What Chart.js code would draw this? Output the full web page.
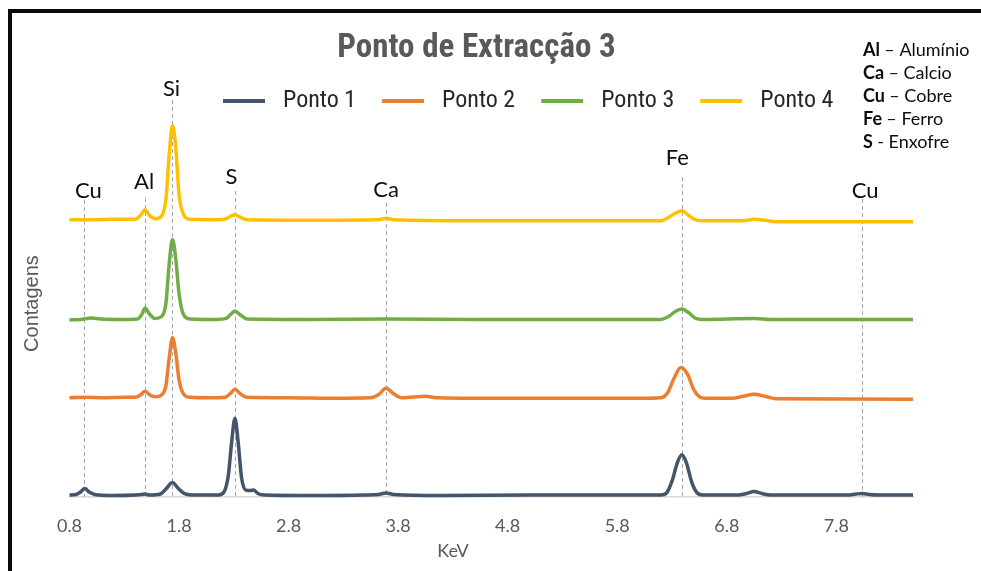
<!DOCTYPE html>
<html><head><meta charset="utf-8">
<script src="https://cdn.jsdelivr.net/npm/chart.js@4/dist/chart.umd.min.js"></script>
<style>html,body{margin:0;padding:0;background:#fff;}canvas{display:block;}</style>
</head><body>
<canvas id="c" width="981" height="571"></canvas>
<script>
// ---------- data ----------
const chartTitle = 'Ponto de Extracção 3';
const xAxisTitle = 'KeV';
const yAxisTitle = 'Contagens';
const seriesNames = ['Ponto 1', 'Ponto 2', 'Ponto 3', 'Ponto 4'];
const xTickValues = [0.8, 1.8, 2.8, 3.8, 4.8, 5.8, 6.8, 7.8];
const xTickLabels = ['0.8', '1.8', '2.8', '3.8', '4.8', '5.8', '6.8', '7.8'];
const elementSymbols = ['Cu', 'Al', 'Si', 'S', 'Ca', 'Fe', 'Cu'];
const elementKev = [0.935, 1.49, 1.74, 2.315, 3.69, 6.395, 8.035];
const keySymbols = ['Al', 'Ca', 'Cu', 'Fe', 'S'];
const keyNames = ['– Alumínio', '– Calcio', '– Cobre', '– Ferro', '- Enxofre'];

// [keV, counts]
const ponto1 = [[0.80,2],[0.86,2.5],[0.90,5],[0.94,8.5],[0.98,5],[1.03,2.5],[1.20,1.5],[1.40,2],[1.46,2.5],[1.49,3],[1.53,2],[1.63,3],[1.68,8],[1.74,14.5],[1.79,9],[1.85,3.5],[1.95,2],
  [2.16,2],[2.21,5],[2.25,22],[2.28,55],[2.31,79.5],[2.34,55],[2.37,20],[2.41,7],[2.45,6.5],[2.48,7],[2.52,3.5],[2.58,2],[3.00,1.5],[3.50,2],[3.62,2.5],[3.69,4],[3.76,2.5],[4.20,1.5],[5.00,2],[5.80,2],
  [6.20,2],[6.25,4],[6.30,16],[6.35,35],[6.39,42.5],[6.43,35],[6.48,15],[6.53,4],[6.58,2],[6.90,2],[6.98,3.5],[7.05,5.5],[7.12,3.5],[7.20,2],[7.90,2],[7.98,3],[8.04,3.5],[8.10,2.5],[8.20,2],[8.50,2]];
const ponto2 = [[0.80,100],[0.95,100.5],[1.10,100],[1.30,100.5],[1.40,100.5],[1.45,103],[1.49,106.5],[1.54,102.5],[1.59,101],[1.64,103],[1.68,112],[1.71,140],[1.74,160.5],[1.77,145],[1.80,118],[1.84,104],[1.90,100.5],
  [2.10,100],[2.22,100.5],[2.27,104.5],[2.31,108.5],[2.36,104],[2.42,100.5],[2.80,100],[3.20,99.5],[3.55,100],[3.62,103],[3.69,109.5],[3.76,104],[3.84,100],[4.05,101.5],[4.15,100],[4.60,99.5],[5.20,99.5],[6.00,99.5],
  [6.20,100],[6.26,105],[6.32,120],[6.38,130.5],[6.44,124],[6.50,108],[6.56,100.5],[6.62,99.5],[6.85,99.5],[6.95,101.5],[7.05,103.5],[7.15,101.5],[7.25,99],[8.50,98.5]];
const ponto3 = [[0.80,178.5],[0.90,179],[1.00,180.5],[1.08,179.5],[1.30,179],[1.42,179.5],[1.46,184],[1.49,190.5],[1.53,184.5],[1.58,180],[1.64,182],[1.68,195],[1.71,235],[1.74,259.5],[1.77,240],[1.80,205],[1.84,184],[1.90,179.5],
  [2.15,179],[2.23,180],[2.27,184],[2.31,187.5],[2.36,183.5],[2.42,179.5],[3.00,179],[3.69,179.5],[4.50,179],[5.50,179],[6.20,179],[6.27,182],[6.33,187],[6.39,189.5],[6.45,186],[6.51,180.5],[6.58,179],[7.05,180],[7.20,179],[8.50,179]];
const ponto4 = [[0.80,279.5],[1.00,279.5],[1.20,280],[1.40,280],[1.45,284],[1.49,289.5],[1.53,284],[1.58,280.5],[1.64,283],[1.68,300],[1.71,345],[1.74,374.5],[1.77,352],[1.80,305],[1.84,285],[1.90,280],
  [2.15,279.5],[2.23,280.5],[2.27,283],[2.31,284.5],[2.36,282],[2.42,279.5],[3.00,279],[3.62,279.5],[3.69,281],[3.76,279.5],[4.50,278.5],[5.50,278.5],[6.20,278.5],[6.27,282],[6.33,286],[6.39,288.5],[6.45,284],[6.51,279.5],[6.58,278.5],
  [6.95,278.5],[7.05,280],[7.15,279],[7.25,277.5],[8.50,277.5]];

// ---------- styles ----------
const colors = ['#44546a', '#ed7d31', '#70ad47', '#ffc000'];
const narrowFamily = "'Liberation Sans Narrow','Arial Narrow','Roboto Condensed','Liberation Sans',sans-serif";
const LEGEND_FS = 24, LEGEND_BOX = 48, LEGEND_LINE = 42;

const allSeries = [ponto1, ponto2, ponto3, ponto4];
const datasets = allSeries.map((s, i) => ({
  label: seriesNames[i],
  data: s.map(p => ({ x: p[0], y: p[1] })),
  borderColor: colors[i],
  backgroundColor: colors[i],
  borderWidth: 3.5,
  pointRadius: 0,
  pointHoverRadius: 0,
  cubicInterpolationMode: 'monotone',
  fill: false,
  clip: false
}));

const annot = {
  labelBase: [198, 189, 96, 184, 197, 165, 198],
  labelDx: [4, -1, -1, -4, 0, -5, 3],
  lineTop: [200, 198, 100, 191, 203, 177, 199]
};

const decor = {
  id: 'decor',
  afterLayout(chart) {
    const lg = chart.legend;
    if (lg && lg.lineWidths) {
      const pad = lg.options.labels.padding;
      const start = (lg.left + pad + lg.right - lg.lineWidths[0]) / 2;
      const dx = 223 - start;
      lg.left += dx; lg.right += dx;
      lg.top = 101 - pad - LEGEND_FS / 2;
      lg.bottom = lg.top + LEGEND_FS + 2 * pad;
      lg.height = lg.bottom - lg.top;
    }
    const tb = chart.titleBlock;
    if (tb) { const d = 476.5 - (tb.left + tb.right) / 2; tb.left += d; tb.right += d; }
  },
  beforeDraw(chart) {
    const ctx = chart.ctx;
    ctx.save();
    ctx.fillStyle = '#ffffff';
    ctx.fillRect(0, 0, chart.width, chart.height);
    ctx.fillStyle = '#0a0a0a';
    ctx.fillRect(8, 9, 4, chart.height - 9);
    ctx.fillRect(8, 9, chart.width - 8, 4);
    ctx.restore();
    // legend swatches: a 42px line inside a 48px box (leaves a gap before the text)
    const lg = chart.legend;
    if (lg && lg.legendItems && lg.legendHitBoxes && lg.lineWidths) {
      const pad = lg.options.labels.padding;
      let x = (lg.left + pad + lg.right - lg.lineWidths[0]) / 2;
      lg.legendItems.forEach((item, i) => {
        const col = colors[item.datasetIndex];
        const g = ctx.createLinearGradient(x, 0, x + LEGEND_BOX, 0);
        const f = LEGEND_LINE / LEGEND_BOX;
        g.addColorStop(0, col); g.addColorStop(f, col);
        g.addColorStop(f, 'rgba(255,255,255,0)'); g.addColorStop(1, 'rgba(255,255,255,0)');
        item.fillStyle = g;
        const hb = lg.legendHitBoxes[i];
        x += (hb ? hb.width : 0) + pad;
      });
    }
  },
  beforeDatasetsDraw(chart) {
    const ctx = chart.ctx, xs = chart.scales.x, bottom = chart.chartArea.bottom;
    ctx.save();
    ctx.setLineDash([4, 3]);
    ctx.strokeStyle = '#a6a6a6';
    ctx.lineWidth = 1;
    elementKev.forEach((e, i) => {
      const px = Math.round(xs.getPixelForValue(e)) + 0.5;
      ctx.beginPath();
      ctx.moveTo(px, annot.lineTop[i]);
      ctx.lineTo(px, bottom);
      ctx.stroke();
    });
    ctx.restore();
  },
  afterDraw(chart) {
    const ctx = chart.ctx, xs = chart.scales.x;
    ctx.save();
    ctx.fillStyle = '#0d0d0d';
    ctx.font = '22px Lato';
    ctx.textAlign = 'center';
    ctx.textBaseline = 'alphabetic';
    elementSymbols.forEach((s, i) => {
      const px = xs.getPixelForValue(elementKev[i]) + annot.labelDx[i];
      ctx.fillText(s, px, annot.labelBase[i]);
    });
    // element key
    ctx.textAlign = 'left';
    keySymbols.forEach((s, i) => {
      const y = 56 + 23 * i;
      ctx.font = 'bold 18px Lato';
      ctx.fillText(s, 863, y);
      const w = ctx.measureText(s + ' ').width;
      ctx.font = '18px Lato';
      ctx.fillText(keyNames[i], 863 + w, y);
    });
    // x axis title
    ctx.fillStyle = '#595959';
    ctx.font = '18px Lato';
    ctx.textAlign = 'center';
    ctx.textBaseline = 'middle';
    ctx.fillText(xAxisTitle, 453, 551);
    ctx.restore();
  }
};

new Chart(document.getElementById('c'), {
  type: 'line',
  data: { datasets },
  options: {
    responsive: false,
    animation: false,
    events: [],
    layout: { padding: { top: 14, left: 14, right: 68, bottom: 15 } },
    plugins: {
      title: {
        display: true,
        text: chartTitle,
        color: '#595959',
        font: { family: narrowFamily, size: 33, weight: 'bold', lineHeight: 1.2 },
        padding: { top: 15, bottom: 40.5 }
      },
      legend: {
        display: true,
        position: 'top',
        maxHeight: 1,
        labels: {
          color: '#262626',
          font: { family: narrowFamily, size: LEGEND_FS },
          boxWidth: LEGEND_BOX,
          boxHeight: 4,
          padding: 26,
          generateLabels(chart) {
            return Chart.defaults.plugins.legend.labels.generateLabels(chart)
              .map(l => Object.assign(l, { fillStyle: l.strokeStyle, lineWidth: 0 }));
          }
        }
      },
      tooltip: { enabled: false }
    },
    scales: {
      x: {
        type: 'linear',
        min: 0.8,
        max: 8.5,
        grid: { display: false, drawTicks: false },
        border: { display: true, color: '#d9d9d9', width: 1.5 },
        afterBuildTicks(axis) { axis.ticks = xTickValues.map(v => ({ value: v })); },
        ticks: {
          color: '#595959',
          font: { family: 'Lato', size: 18 },
          padding: 18.7,
          maxRotation: 0,
          autoSkip: false,
          callback(value, index) { return xTickLabels[index]; }
        }
      },
      y: {
        type: 'linear',
        min: 0,
        max: 390,
        grid: { display: false, drawTicks: false },
        border: { display: false },
        ticks: { display: false },
        title: {
          display: true,
          text: yAxisTitle,
          color: '#595959',
          font: { family: "'Liberation Sans',Arial,sans-serif", size: 20, lineHeight: 1.2 },
          padding: { top: 6, bottom: 0 }
        },
        afterFit(axis) { axis.width = 55.5; }
      }
    }
  },
  plugins: [decor]
});
</script>
</body></html>
